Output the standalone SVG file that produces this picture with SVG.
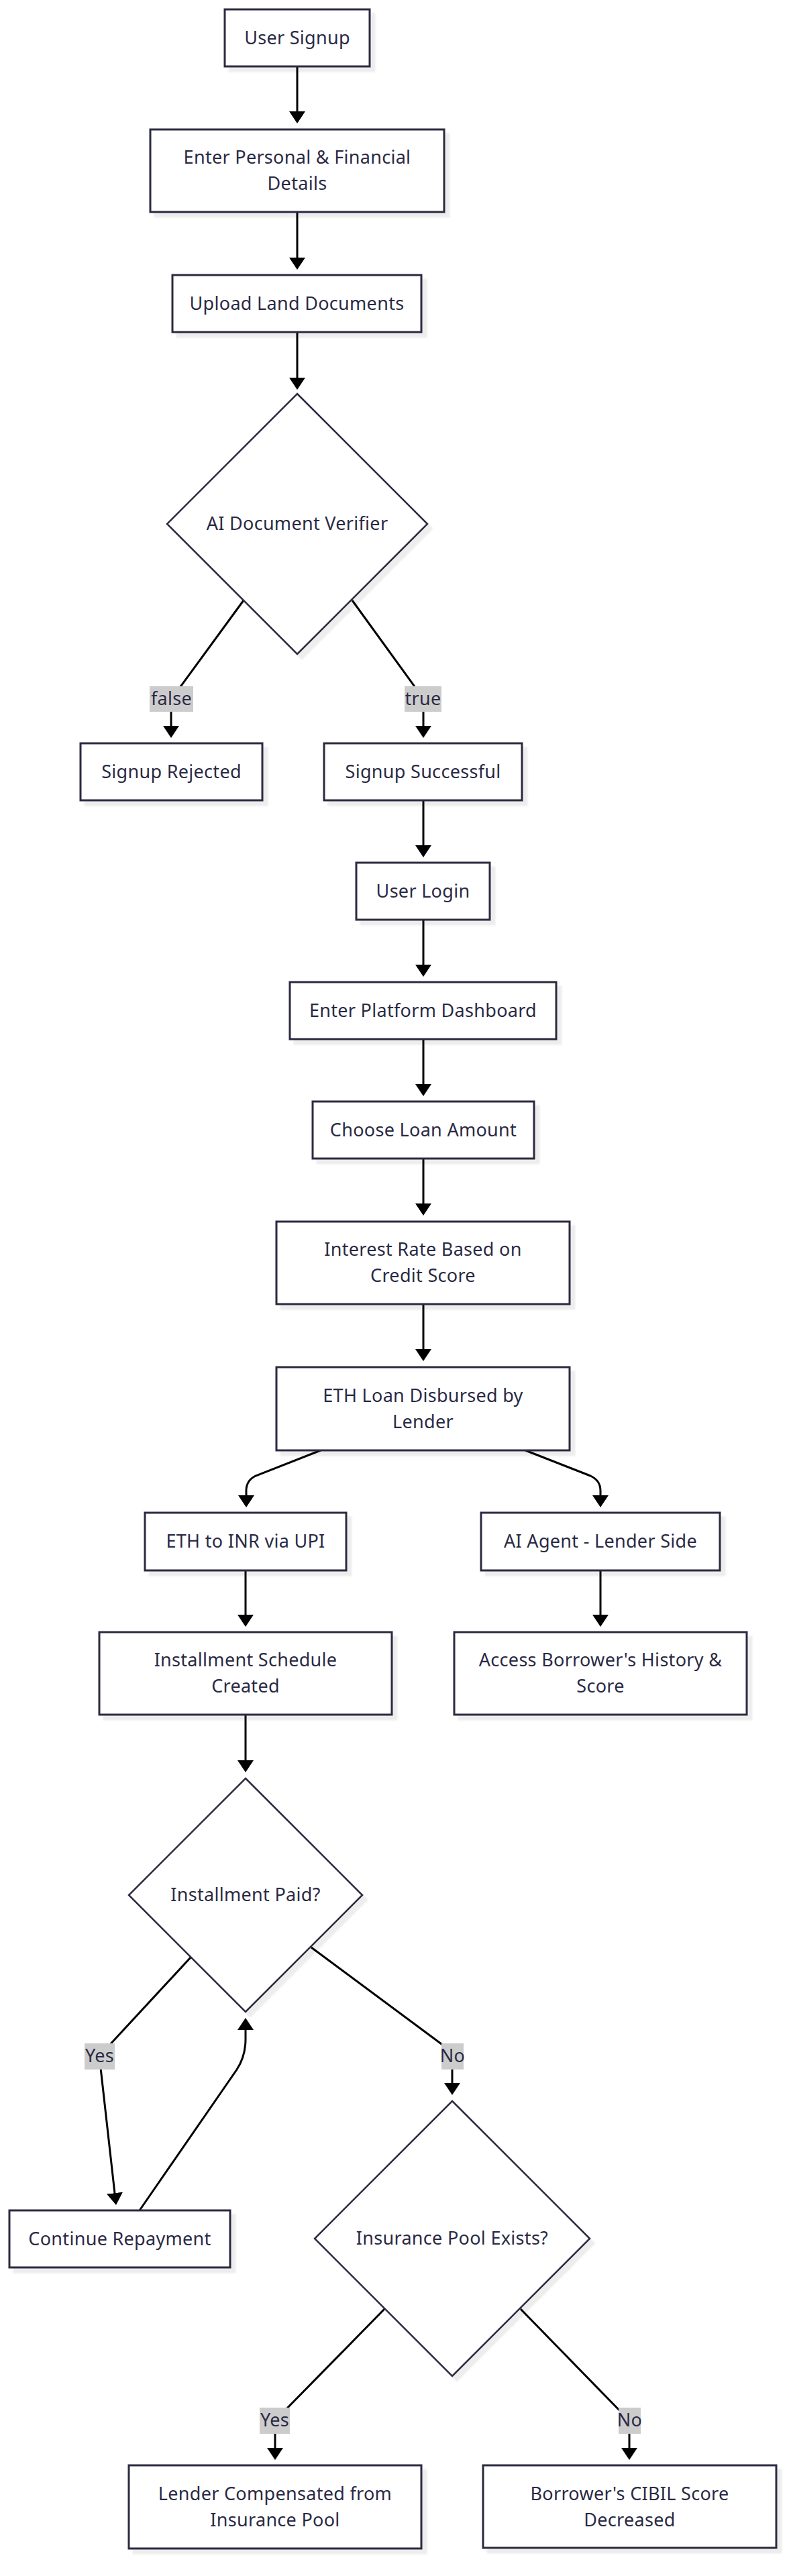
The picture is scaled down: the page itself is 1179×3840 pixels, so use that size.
<svg xmlns="http://www.w3.org/2000/svg" width="1179" height="3840" viewBox="0 0 1179 3840">
<defs>
<style>
.bg{fill:#ffffff}
.n{fill:#ffffff;stroke:#2a2a40;stroke-width:3;filter:url(#sh)}
.d{fill:#ffffff;stroke:#2a2a40;stroke-width:2.5;filter:url(#sh)}
.t{font-family:"Noto Sans","DejaVu Sans",sans-serif;font-size:27px;letter-spacing:0.3px;fill:#2a2a44;text-anchor:middle}
.e{fill:none;stroke:#000000;stroke-width:3;marker-end:url(#ah)}
.lb{fill:#cccccc}
</style>
<filter id="sh" x="-10%" y="-10%" width="130%" height="130%">
<feDropShadow dx="7" dy="7" stdDeviation="0.8" flood-color="#000000" flood-opacity="0.07"/>
</filter>
<marker id="ah" markerUnits="userSpaceOnUse" markerWidth="18" markerHeight="24" viewBox="0 0 18 24" refX="2" refY="12" orient="auto">
<path d="M0,0 L18,12 L0,24 z" fill="#000000"/>
</marker>
</defs>
<rect class="bg" x="0" y="0" width="1179" height="3840"/>
<g id="connectors">
<path class="e" d="M443,99 L443,168"/>
<path class="e" d="M443,316 L443,386"/>
<path class="e" d="M443,495 L443,565"/>
<path class="e" d="M363,895 L268,1025 Q255,1043 255,1062 L255,1084"/>
<path class="e" d="M525,895 L617,1022 Q631,1043 631,1062 L631,1084"/>
<path class="e" d="M631,1193 L631,1262"/>
<path class="e" d="M631,1371 L631,1440"/>
<path class="e" d="M631,1549 L631,1618"/>
<path class="e" d="M631,1727 L631,1796"/>
<path class="e" d="M631,1944 L631,2013"/>
<path class="e" d="M478,2162 L381,2200 Q367,2207 367,2222 L367,2231"/>
<path class="e" d="M783,2162 L880,2200 Q895,2207 895,2222 L895,2231"/>
<path class="e" d="M366,2341 L366,2409"/>
<path class="e" d="M895,2341 L895,2409"/>
<path class="e" d="M366,2556 L366,2626"/>
<path class="e" d="M284,2918 L148,3065 L171.2,3271.1"/>
<path class="e" d="M208,3295 L353,3085 Q366,3065 366,3040 L366,3024"/>
<path class="e" d="M464,2903 L662,3050 Q674,3060 674,3075 L674,3107"/>
<path class="e" d="M573,3442 L420,3598 Q410,3610 410,3625 L410,3651"/>
<path class="e" d="M776,3442 L928,3598 Q938,3610 938,3625 L938,3651"/>
</g>
<g id="edge-labels">
<rect class="lb" x="223" y="1023" width="65" height="38"/><text class="t" x="255.5" y="1051">false</text>
<rect class="lb" x="603" y="1023" width="55" height="38"/><text class="t" x="630.5" y="1051">true</text>
<rect class="lb" x="126" y="3046" width="45" height="39"/><text class="t" x="148.5" y="3074">Yes</text>
<rect class="lb" x="658" y="3046" width="33" height="39"/><text class="t" x="674.5" y="3074">No</text>
<rect class="lb" x="387" y="3589" width="45" height="39"/><text class="t" x="409.5" y="3617">Yes</text>
<rect class="lb" x="922" y="3589" width="33" height="39"/><text class="t" x="938.5" y="3617">No</text>
</g>
<g id="user-signup"><rect class="n" x="335" y="14" width="216" height="85"/><text class="t" x="443" y="66">User Signup</text></g>
<g id="enter-details"><rect class="n" x="224" y="193" width="438" height="123"/><text class="t" x="443" y="244">Enter Personal &amp; Financial</text><text class="t" x="443" y="283">Details</text></g>
<g id="upload-docs"><rect class="n" x="257" y="410" width="371" height="85"/><text class="t" x="442.5" y="462">Upload Land Documents</text></g>
<g id="ai-verifier"><polygon class="d" points="443,587 637,781 443,975 249,781"/><text class="t" x="443" y="790">AI Document Verifier</text></g>
<g id="signup-rejected"><rect class="n" x="120" y="1108" width="271" height="85"/><text class="t" x="255.5" y="1160">Signup Rejected</text></g>
<g id="signup-successful"><rect class="n" x="483" y="1108" width="295" height="85"/><text class="t" x="630.5" y="1160">Signup Successful</text></g>
<g id="user-login"><rect class="n" x="531" y="1286" width="199" height="85"/><text class="t" x="630.5" y="1338">User Login</text></g>
<g id="dashboard"><rect class="n" x="432" y="1464" width="397" height="85"/><text class="t" x="630.5" y="1516">Enter Platform Dashboard</text></g>
<g id="choose-loan"><rect class="n" x="466" y="1642" width="330" height="85"/><text class="t" x="631" y="1694">Choose Loan Amount</text></g>
<g id="interest-rate"><rect class="n" x="412" y="1821" width="437" height="123"/><text class="t" x="630.5" y="1872">Interest Rate Based on</text><text class="t" x="630.5" y="1911">Credit Score</text></g>
<g id="eth-loan"><rect class="n" x="412" y="2038" width="437" height="124"/><text class="t" x="630.5" y="2090">ETH Loan Disbursed by</text><text class="t" x="630.5" y="2129">Lender</text></g>
<g id="eth-inr"><rect class="n" x="216" y="2255" width="300" height="86"/><text class="t" x="366" y="2307">ETH to INR via UPI</text></g>
<g id="ai-agent"><rect class="n" x="717" y="2255" width="356" height="86"/><text class="t" x="895" y="2307">AI Agent - Lender Side</text></g>
<g id="installment-schedule"><rect class="n" x="148" y="2433" width="436" height="123"/><text class="t" x="366" y="2484">Installment Schedule</text><text class="t" x="366" y="2523">Created</text></g>
<g id="borrower-history"><rect class="n" x="677" y="2433" width="436" height="123"/><text class="t" x="895" y="2484">Access Borrower's History &amp;</text><text class="t" x="895" y="2523">Score</text></g>
<g id="installment-paid"><polygon class="d" points="366,2651 540,2825 366,2999 192,2825"/><text class="t" x="366" y="2834">Installment Paid?</text></g>
<g id="continue-repayment"><rect class="n" x="14" y="3295" width="329" height="85"/><text class="t" x="178.5" y="3347">Continue Repayment</text></g>
<g id="insurance-pool"><polygon class="d" points="674,3132 879,3337 674,3542 469,3337"/><text class="t" x="674" y="3346">Insurance Pool Exists?</text></g>
<g id="lender-compensated"><rect class="n" x="192" y="3675" width="436" height="124"/><text class="t" x="410" y="3727">Lender Compensated from</text><text class="t" x="410" y="3766">Insurance Pool</text></g>
<g id="cibil-decreased"><rect class="n" x="720" y="3675" width="437" height="123"/><text class="t" x="938.5" y="3727">Borrower's CIBIL Score</text><text class="t" x="938.5" y="3766">Decreased</text></g>
</svg>
